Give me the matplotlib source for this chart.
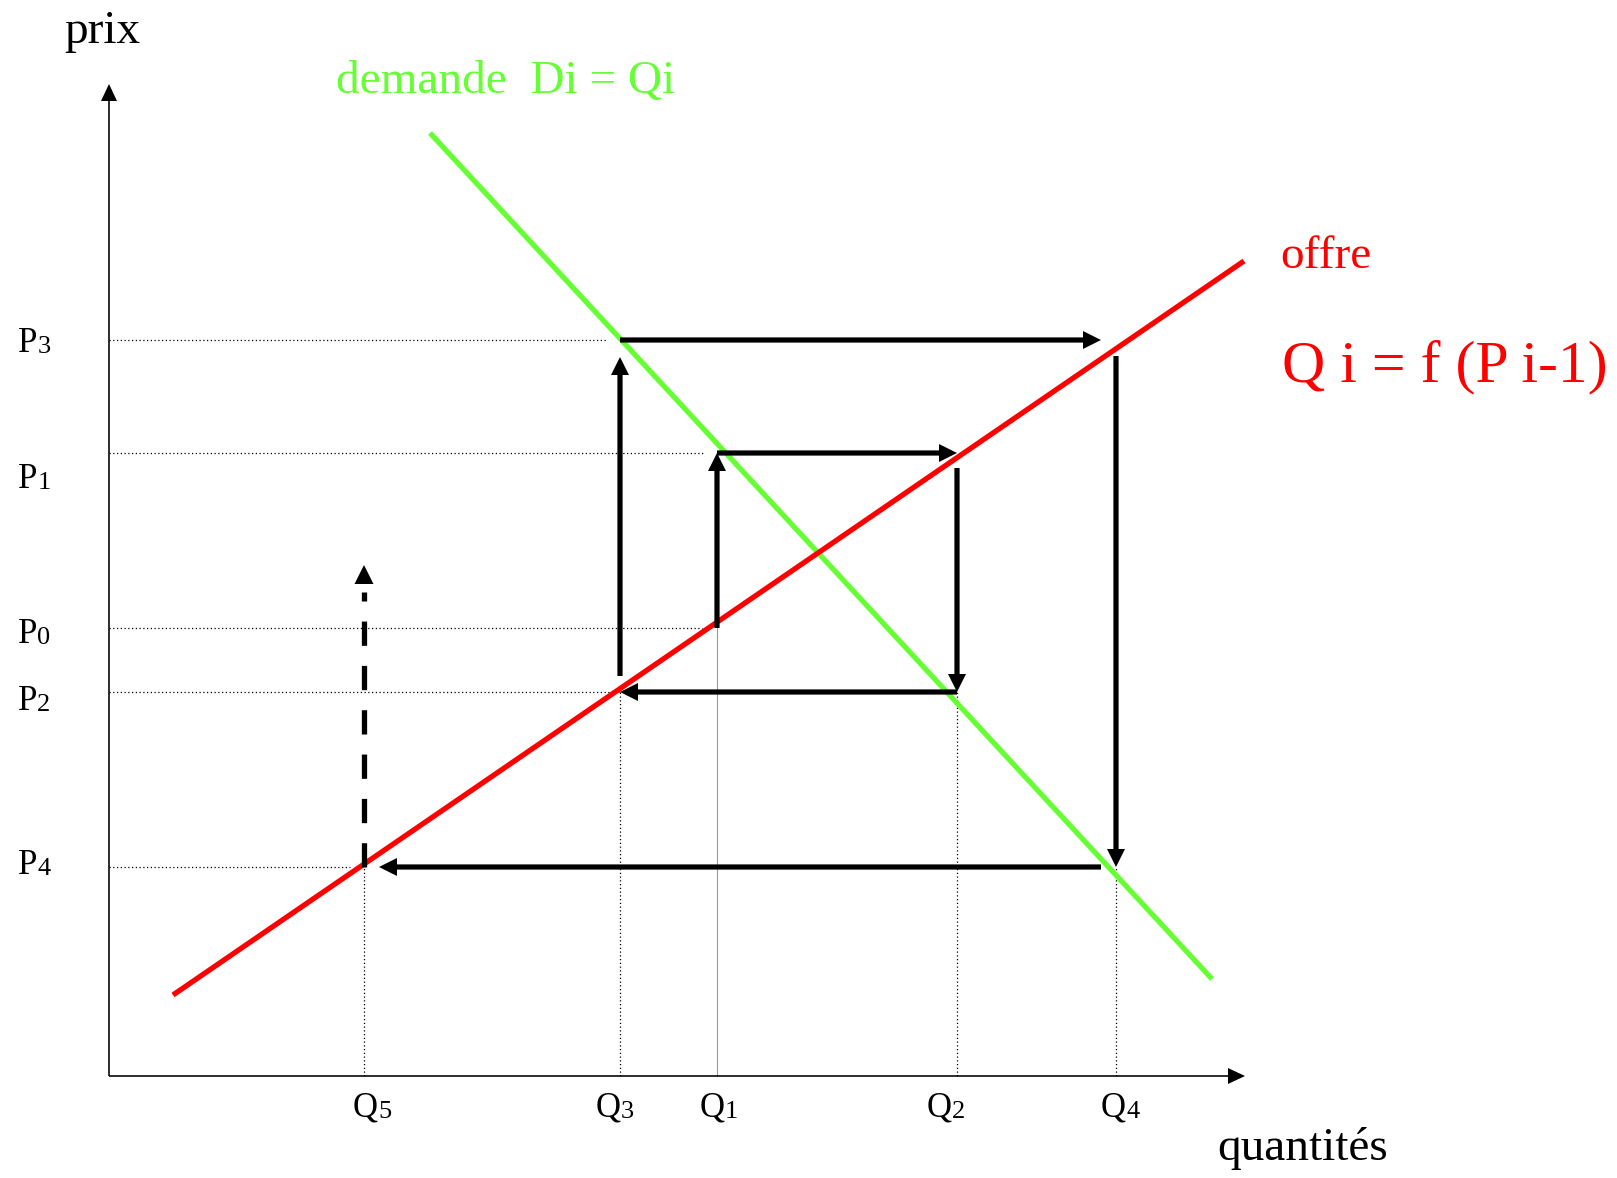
import matplotlib
matplotlib.use("Agg")
import matplotlib.pyplot as plt

plt.rcParams['font.family'] = ['Liberation Serif', 'DejaVu Serif']

# ---- data (diagram units, origin at axes crossing) ----
demand_q = [3.21, 11.03]
demand_p = [9.43, 0.97]
supply_q = [0.64, 11.35]
supply_p = [0.81, 8.15]

Q = {'Q1': 6.08, 'Q2': 8.48, 'Q3': 5.11, 'Q4': 10.07, 'Q5': 2.55}
P = {'P0': 4.48, 'P1': 6.23, 'P2': 3.84, 'P3': 7.36, 'P4': 2.09}
dashed_top = 5.11

q_labels = ['Q5', 'Q3', 'Q1', 'Q2', 'Q4']
p_labels = ['P3', 'P1', 'P0', 'P2', 'P4']

GREEN = '#66FF33'
RED = '#FF0000'

fig = plt.figure(figsize=(16.17, 11.78), dpi=100)
ax = fig.add_axes([0, 0, 1, 1])
ax.set_xlim(-1.09, 15.08)
ax.set_ylim(-1.02, 10.76)
ax.axis('off')

# axes with arrow heads
ax.arrow(0, 0, 0, 9.92, width=0.016, head_width=0.16, head_length=0.17,
         length_includes_head=True, color='black', lw=0, zorder=3)
ax.arrow(0, 0, 11.36, 0, width=0.016, head_width=0.16, head_length=0.17,
         length_includes_head=True, color='black', lw=0, zorder=3)

dot = (0, (1, 2))
# horizontal dotted guides
h_guides = [('P3', Q['Q3'] - 0.14), ('P1', Q['Q1'] - 0.13), ('P0', Q['Q1'] - 0.15),
            ('P2', Q['Q3']), ('P4', Q['Q5'] - 0.14)]
for pk, xend in h_guides:
    ax.plot([0, xend], [P[pk], P[pk]], color='black', lw=0.9, ls=dot, zorder=1)
# vertical guides
v_guides = [('Q5', 'P4'), ('Q3', 'P2'), ('Q2', 'P2'), ('Q4', 'P4')]
for qk, pk in v_guides:
    ax.plot([Q[qk], Q[qk]], [0, P[pk]], color='black', lw=0.9, ls=dot, zorder=1)
ax.plot([Q['Q1'], Q['Q1']], [0, P['P0']], color='#999999', lw=0.8, zorder=1)

# supply and demand
ax.plot(demand_q, demand_p, color=GREEN, lw=3.8, solid_capstyle='butt', zorder=2)
ax.plot(supply_q, supply_p, color=RED, lw=3.8, solid_capstyle='butt', zorder=2)

# cobweb arrows
g = 0.15
segments = [
    ((Q['Q1'], P['P0']), (Q['Q1'], P['P1'])),
    ((Q['Q1'], P['P1']), (Q['Q2'], P['P1'])),
    ((Q['Q2'], P['P1'] - g), (Q['Q2'], P['P2'])),
    ((Q['Q2'], P['P2']), (Q['Q3'], P['P2'])),
    ((Q['Q3'], P['P2'] + 0.16), (Q['Q3'], P['P3'] - 0.17)),
    ((Q['Q3'], P['P3']), (Q['Q4'] - g, P['P3'])),
    ((Q['Q4'], P['P3'] - 0.16), (Q['Q4'], P['P4'])),
    ((Q['Q4'] - g, P['P4']), (Q['Q5'] + g, P['P4'])),
]
for (x0, y0), (x1, y1) in segments:
    ax.arrow(x0, y0, x1 - x0, y1 - y0, width=0.052, head_width=0.18,
             head_length=0.18, length_includes_head=True, color='black',
             lw=0, zorder=4)

# dashed arrow (upward, from P4)
ax.plot([Q['Q5'], Q['Q5']], [P['P4'], dashed_top - 0.27], color='black', lw=3.8,
        ls=(0, (4.6, 3.8)), dash_capstyle='butt', zorder=4)
ax.fill([Q['Q5'] - 0.095, Q['Q5'] + 0.095, Q['Q5']],
        [dashed_top - 0.19, dashed_top - 0.19, dashed_top],
        color='black', zorder=4, lw=0)

# texts
ax.text(-0.45, 10.33, 'prix', fontsize=34, va='baseline', ha='left')
ax.text(2.27, 9.83, 'demande  Di = Qi', fontsize=34, color=GREEN, va='baseline', ha='left')
ax.text(11.71, 8.08, 'offre', fontsize=34, color=RED, va='baseline', ha='left')
ax.text(11.73, 6.95, 'Q i = f (P i-1)', fontsize=43, color=RED, va='baseline', ha='left')
ax.text(11.08, -0.84, 'quantités', fontsize=34, va='baseline', ha='left')


def sub_label(x, y, letter, digit, adv):
    ax.text(x, y, letter, fontsize=25, va='baseline', ha='left')
    ax.annotate(digit, xy=(x, y), xytext=(adv, -1.0), textcoords='offset points',
                fontsize=19, va='baseline', ha='left')


p_label_y = {'P3': 7.24, 'P1': 5.88, 'P0': 4.33, 'P2': 3.66, 'P4': 2.02}
for pk in p_labels:
    sub_label(-0.91, p_label_y[pk], 'P', pk[1], 0.556 * 25)
q_label_x = {'Q5': 2.44, 'Q3': 4.87, 'Q1': 5.91, 'Q2': 8.18, 'Q4': 9.92}
for qk in q_labels:
    sub_label(q_label_x[qk], -0.41, 'Q', qk[1], 0.722 * 25)

fig.savefig('out.png', dpi=100)
